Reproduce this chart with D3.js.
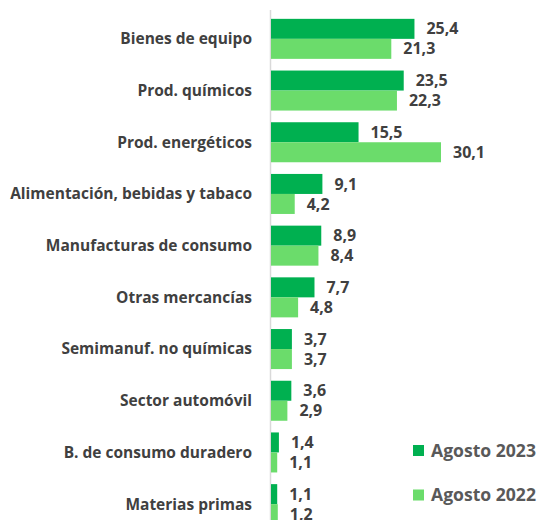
<!DOCTYPE html>
<html>
<head>
<meta charset="utf-8">
<script src="https://cdn.jsdelivr.net/npm/d3@7"></script>
<style>
  body { margin: 0; background: #fff; }
  svg { display: block; }
</style>
</head>
<body>
<svg width="537" height="520"></svg>
<script>
const categories = [
  'Bienes de equipo',
  'Prod. químicos',
  'Prod. energéticos',
  'Alimentación, bebidas y tabaco',
  'Manufacturas de consumo',
  'Otras mercancías',
  'Semimanuf. no químicas',
  'Sector automóvil',
  'B. de consumo duradero',
  'Materias primas'
]
const series = ['Agosto 2023', 'Agosto 2022']
const values2023 = [25.4, 23.5, 15.5, 9.1, 8.9, 7.7, 3.7, 3.6, 1.4, 1.1]
const values2022 = [21.3, 22.3, 30.1, 4.2, 8.4, 4.8, 3.7, 2.9, 1.1, 1.2]
const colors = ['#00b050', '#6bdc6b']

const svg = d3.select('svg')
const font = '"Open Sans", Lato, sans-serif'

// size a font so that a sample string gets the wanted width
function fitSize (sample, width, base) {
  const t = svg.append('text')
    .attr('font-family', font).attr('font-weight', 'bold')
    .attr('font-size', base).text(sample)
  const w = t.node().getComputedTextLength()
  t.remove()
  return base * width / w
}
const catSize = fitSize('Alimentación, bebidas y tabaco', 242, 14)
const valSize = fitSize('25,4', 32, 15)
const legSize = fitSize('Agosto 2023', 105, 16)

const x = d3.scaleLinear().domain([0, 30.1]).range([271, 441])
const y = d3.scaleBand()
  .domain(categories)
  .range([13, 530])
  .paddingInner(0.226)
  .paddingOuter(0.113)
const ySub = d3.scaleBand().domain(series).range([0, y.bandwidth()])

// vertical axis line
svg.append('line')
  .attr('x1', x(0) - 0.5).attr('x2', x(0) - 0.5)
  .attr('y1', 10).attr('y2', 520)
  .attr('stroke', '#d9d9d9')
  .attr('stroke-width', 1.5)

const rows = categories.map((c, i) => ({ cat: c, vals: [values2023[i], values2022[i]] }))

const g = svg.selectAll('.grp')
  .data(rows)
  .enter().append('g')
  .attr('class', 'grp')
  .attr('transform', d => 'translate(0,' + y(d.cat) + ')')

g.selectAll('rect')
  .data(d => d.vals.map((v, j) => ({ v, s: series[j], j })))
  .enter().append('rect')
  .attr('x', x(0))
  .attr('y', d => ySub(d.s))
  .attr('width', d => x(d.v) - x(0))
  .attr('height', ySub.bandwidth())
  .attr('fill', d => colors[d.j])

g.selectAll('.val')
  .data(d => d.vals.map((v, j) => ({ v, s: series[j], j })))
  .enter().append('text')
  .attr('class', 'val')
  .attr('x', d => x(d.v) + 12)
  .attr('y', d => ySub(d.s) + ySub.bandwidth() / 2)
  .attr('dy', '0.35em')
  .attr('font-family', font)
  .attr('font-weight', 'bold')
  .attr('font-size', valSize)
  .attr('fill', '#404040')
  .text(d => d3.format('.1f')(d.v).replace('.', ','))

// category labels
svg.selectAll('.cat')
  .data(categories)
  .enter().append('text')
  .attr('class', 'cat')
  .attr('x', 252)
  .attr('y', d => y(d) + y.bandwidth() / 2)
  .attr('dy', '0.35em')
  .attr('text-anchor', 'end')
  .attr('font-family', font)
  .attr('font-weight', 'bold')
  .attr('font-size', catSize)
  .attr('fill', '#404040')
  .text(d => d)

// legend
const leg = svg.selectAll('.leg')
  .data(series)
  .enter().append('g')
  .attr('class', 'leg')
  .attr('transform', (d, i) => 'translate(413,' + (445 + i * 44.5) + ')')

leg.append('rect')
  .attr('width', 11).attr('height', 11)
  .attr('fill', (d, i) => colors[i])

leg.append('text')
  .attr('x', 18)
  .attr('y', 5.5)
  .attr('dy', '0.35em')
  .attr('font-family', font)
  .attr('font-weight', 'bold')
  .attr('font-size', legSize)
  .attr('fill', '#595959')
  .text(d => d)
</script>
</body>
</html>
